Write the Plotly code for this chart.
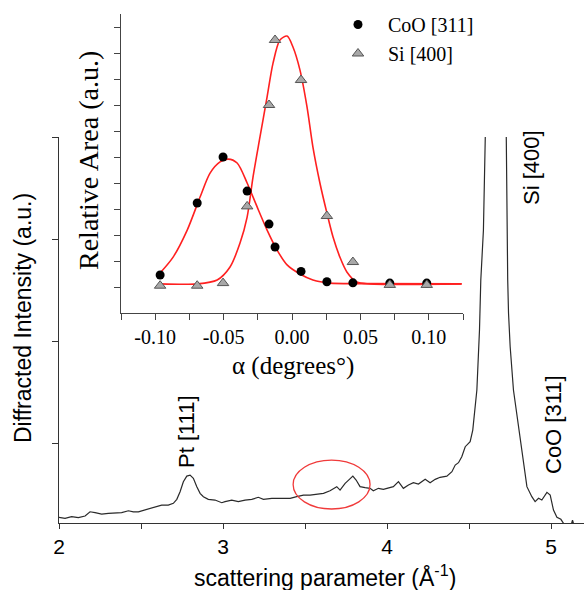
import plotly.graph_objects as go

# ---------------- data ----------------
# main diffraction pattern (scattering parameter in 1/Angstrom, intensity a.u.)
scan_q = [2.000, 2.037, 2.077, 2.118, 2.159, 2.189, 2.220, 2.260, 2.301, 2.341, 2.382, 2.423,
          2.453, 2.484, 2.524, 2.565, 2.596, 2.626, 2.666, 2.697, 2.718, 2.738, 2.758, 2.779,
          2.799, 2.819, 2.840, 2.860, 2.880, 2.910, 2.951, 2.992, 3.012, 3.053, 3.093, 3.134,
          3.175, 3.215, 3.246, 3.297, 3.358, 3.409, 3.449, 3.490, 3.530, 3.571, 3.612, 3.652,
          3.693, 3.713, 3.744, 3.770, 3.791, 3.811, 3.835, 3.866, 3.896, 3.916, 3.947, 3.977,
          4.008, 4.038, 4.069, 4.099, 4.130, 4.160, 4.191, 4.232, 4.262, 4.293, 4.323, 4.364,
          4.395, 4.415, 4.435, 4.455, 4.476, 4.506, 4.522, 4.547, 4.563, 4.571, 4.587, 4.591,
          4.600, 4.660, 4.720, 4.726, 4.730, 4.735, 4.740, 4.750, 4.770, 4.801, 4.831, 4.852,
          4.882, 4.902, 4.923, 4.943, 4.974, 4.994, 5.014, 5.035, 5.059, 5.075, 5.090, 5.115,
          5.130, 5.145]
scan_i = [0.272, 0.262, 0.278, 0.268, 0.284, 0.326, 0.317, 0.304, 0.311, 0.311, 0.317, 0.336,
          0.326, 0.326, 0.343, 0.360, 0.375, 0.392, 0.392, 0.409, 0.448, 0.523, 0.621, 0.676,
          0.686, 0.654, 0.572, 0.507, 0.474, 0.448, 0.441, 0.415, 0.425, 0.441, 0.425, 0.441,
          0.448, 0.468, 0.448, 0.458, 0.458, 0.458, 0.474, 0.490, 0.490, 0.500, 0.507, 0.532,
          0.572, 0.539, 0.605, 0.644, 0.676, 0.637, 0.572, 0.562, 0.556, 0.532, 0.556, 0.546,
          0.556, 0.572, 0.621, 0.556, 0.588, 0.611, 0.598, 0.644, 0.611, 0.644, 0.664, 0.676,
          0.719, 0.784, 0.807, 0.866, 0.964, 1.013, 1.127, 1.520, 2.108, 2.598, 3.088, 4.000,
          5.000, 9.000, 5.000, 4.000, 3.088, 2.598, 2.272, 1.944, 1.520, 1.160, 0.768, 0.572,
          0.474, 0.425, 0.458, 0.441, 0.517, 0.490, 0.343, 0.272, 0.252, 0.213, 0.150, 0.160,
          0.245, 0.160]

# inset: relative area vs alpha
alpha_pts = [-0.0964, -0.0693, -0.0504, -0.0328, -0.0168, -0.0124, 0.0066, 0.0255, 0.0445, 0.0715, 0.0985]
coo_area = [0.46, 3.23, 5.00, 3.69, 2.42, 1.54, 0.60, 0.20, 0.16, 0.15, 0.15]
si_area = [0.05, 0.05, 0.15, 3.10, 7.00, 9.50, 7.96, 2.73, 0.96, 0.08, 0.08]

# fitted curves
coo_fit_x = [-0.0964, -0.0869, -0.0766, -0.0672, -0.0599, -0.0526, -0.0467, -0.0401, -0.0328,
             -0.0255, -0.0182, -0.0109, -0.0036, 0.0058, 0.0153, 0.0277, 0.0500, 0.1240]
coo_fit_y = [0.54, 1.15, 2.19, 3.46, 4.38, 4.81, 4.92, 4.77, 4.00, 3.08, 2.19, 1.42, 0.85,
             0.50, 0.27, 0.15, 0.13, 0.12]
si_fit_x = [-0.0964, -0.0690, -0.0547, -0.0453, -0.0380, -0.0328, -0.0285, -0.0234, -0.0182,
            -0.0139, -0.0088, -0.0036, 0.0007, 0.0058, 0.0110, 0.0153, 0.0204, 0.0255, 0.0300,
            0.0350, 0.0401, 0.0474, 0.0569, 0.1240]
si_fit_y = [0.12, 0.12, 0.27, 0.77, 1.69, 2.69, 4.23, 5.77, 7.31, 8.60, 9.50, 9.65, 9.23, 8.35,
            6.92, 5.38, 4.00, 2.85, 1.92, 1.15, 0.58, 0.19, 0.12, 0.12]

main_xticks = [2, 3, 4, 5]
inset_xticks = [-0.10, -0.05, 0.00, 0.05, 0.10]
inset_xticklabels = ["-0.10", "-0.05", "0.00", "0.05", "0.10"]

# ---------------- layout helpers ----------------
W, H = 584, 590
ML, MR, MT, MB = 59, 0, 10, 67
PW, PH = W - ML - MR, H - MT - MB


def pxx(p):
    return (p - ML) / PW


def pxy(p):
    return (H - MB - p) / PH


SANS = "Liberation Sans, Arial, sans-serif"
SERIF = "Liberation Serif, Times New Roman, serif"
RED = "#ff2020"

fig = go.Figure()

fig.add_trace(go.Scatter(x=scan_q, y=scan_i, mode="lines",
                         line=dict(color="#2a2a2a", width=1.2),
                         showlegend=False, xaxis="x", yaxis="y"))

fig.add_trace(go.Scatter(x=coo_fit_x, y=coo_fit_y, mode="lines",
                         line=dict(color=RED, width=1.6, shape="spline", smoothing=0.8),
                         showlegend=False, xaxis="x2", yaxis="y2"))
fig.add_trace(go.Scatter(x=si_fit_x, y=si_fit_y, mode="lines",
                         line=dict(color=RED, width=1.6, shape="spline", smoothing=0.8),
                         showlegend=False, xaxis="x2", yaxis="y2"))

fig.add_trace(go.Scatter(x=alpha_pts, y=coo_area, mode="markers", name="\u00a0CoO [311]",
                         marker=dict(symbol="circle", size=9, color="black"),
                         xaxis="x2", yaxis="y2"))
fig.add_trace(go.Scatter(x=alpha_pts, y=si_area, mode="markers", name="\u00a0Si [400]",
                         marker=dict(symbol="triangle-up", size=10, color="#a8a8a8",
                                     line=dict(color="#555555", width=1)),
                         xaxis="x2", yaxis="y2"))

axis_col = "#333333"
fig.update_layout(
    width=W, height=H,
    margin=dict(l=ML, r=MR, t=MT, b=MB),
    paper_bgcolor="white", plot_bgcolor="rgba(0,0,0,0)",
    xaxis=dict(domain=[0, 1], range=[2, 5.2], tickvals=main_xticks,
               ticks="outside", ticklen=5, tickwidth=1.2, tickcolor=axis_col,
               minor=dict(dtick=0.5, tick0=2.5, ticks="outside", ticklen=5,
                          tickwidth=1.2, tickcolor=axis_col, showgrid=False),
               showline=True, linecolor=axis_col, linewidth=1.4, showgrid=False,
               zeroline=False, tickfont=dict(family=SANS, size=21, color="black")),
    yaxis=dict(domain=[0, pxy(137)], range=[0.216, 4.0], tickvals=[1, 2, 3, 4],
               showticklabels=False, ticks="outside", ticklen=6, tickwidth=1.2,
               tickcolor=axis_col, showline=True, linecolor=axis_col, linewidth=1.4,
               showgrid=False, zeroline=False),
    xaxis2=dict(domain=[pxx(121), pxx(463)], anchor="y2", range=[-0.125, 0.125],
                tickvals=inset_xticks, ticktext=inset_xticklabels,
                ticks="outside", ticklen=6, tickwidth=1.2, tickcolor="#444444",
                minor=dict(tickvals=[-0.125, -0.075, -0.025, 0.025, 0.075, 0.125],
                           ticks="outside", ticklen=6, tickwidth=1.2, tickcolor="#444444",
                           showgrid=False),
                showline=True, linecolor="#444444", linewidth=1.4, showgrid=False,
                zeroline=False, tickfont=dict(family=SERIF, size=20, color="black")),
    yaxis2=dict(domain=[pxy(313), pxy(14)], anchor="x2", range=[-1, 10.5],
                tickvals=list(range(0, 11)), showticklabels=False,
                ticks="outside", ticklen=6, tickwidth=1.2, tickcolor="#444444",
                showline=True, linecolor="#444444", linewidth=1.4, showgrid=False,
                zeroline=False),
    legend=dict(x=pxx(333), y=pxy(5), xanchor="left", yanchor="top",
                bgcolor="rgba(0,0,0,0)", font=dict(family=SERIF, size=20, color="black"),
                tracegroupgap=0, itemwidth=40),
    shapes=[dict(type="circle", xref="x", yref="y", x0=3.427, x1=3.896, y0=0.353, y1=0.833,
                 line=dict(color="#f03a3a", width=1.3))],
)

ann = [
    dict(text="Diffracted Intensity (a.u.)", x=pxx(23), y=pxy(318), textangle=-90,
         font=dict(family=SANS, size=23, color="black")),
    dict(text="scattering parameter (Å<sup>-1</sup>)", x=pxx(325), y=pxy(576),
         font=dict(family=SANS, size=23, color="black")),
    dict(text="Relative Area (a.u.)", x=pxx(88), y=pxy(161), textangle=-90,
         font=dict(family=SERIF, size=28, color="black")),
    dict(text="α (degrees°)", x=pxx(293), y=pxy(366),
         font=dict(family=SERIF, size=25, color="black")),
    dict(text="Pt [111]", x=pxx(186), y=pxy(432), textangle=-90,
         font=dict(family=SANS, size=22, color="black")),
    dict(text="Si [400]", x=pxx(531), y=pxy(168), textangle=-90,
         font=dict(family=SANS, size=22, color="black")),
    dict(text="CoO [311]", x=pxx(553), y=pxy(425), textangle=-90,
         font=dict(family=SANS, size=22, color="black")),
]
for a in ann:
    a.update(xref="paper", yref="paper", showarrow=False, xanchor="center", yanchor="middle")
fig.update_layout(annotations=ann)

fig.write_html("out.html",
               config={"displayModeBar": False},
               post_script="document.body.style.margin='0px';"
                           "document.body.style.overflow='hidden';")
